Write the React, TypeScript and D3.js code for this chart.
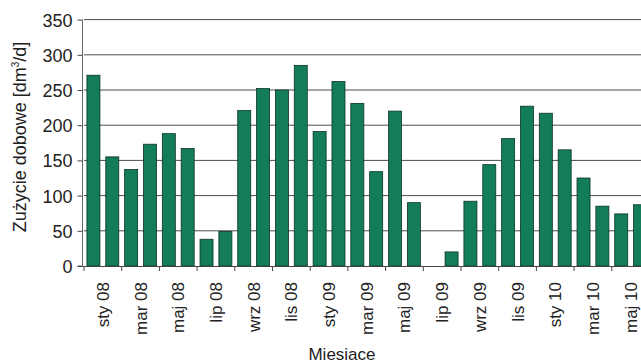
import { useEffect, useRef } from 'react'
import * as d3 from 'd3'

// monthly values, Jan 2008 - Jun 2010
const months = [
  'sty 08', 'lut 08', 'mar 08', 'kwi 08', 'maj 08', 'cze 08', 'lip 08', 'sie 08', 'wrz 08', 'paź 08', 'lis 08', 'gru 08',
  'sty 09', 'lut 09', 'mar 09', 'kwi 09', 'maj 09', 'cze 09', 'lip 09', 'sie 09', 'wrz 09', 'paź 09', 'lis 09', 'gru 09',
  'sty 10', 'lut 10', 'mar 10', 'kwi 10', 'maj 10', 'cze 10',
]
const usage = [
  271, 155, 137, 173, 188, 167, 38, 49, 221, 252, 250, 285,
  191, 262, 231, 134, 220, 90, 0, 20, 92, 144, 181, 227,
  217, 165, 125, 85, 74, 87,
]
const xTickLabels = [
  'sty 08', 'mar 08', 'maj 08', 'lip 08', 'wrz 08', 'lis 08', 'sty 09', 'mar 09',
  'maj 09', 'lip 09', 'wrz 09', 'lis 09', 'sty 10', 'mar 10', 'maj 10',
]
const yTicks = [0, 50, 100, 150, 200, 250, 300, 350]

const W = 641
const H = 363
const FONT = "'Liberation Sans Narrow', 'Arial Narrow', 'Liberation Sans', sans-serif"

export default function App() {
  const ref = useRef<SVGSVGElement | null>(null)

  useEffect(() => {
    const svg = d3.select(ref.current)
    svg.selectAll('*').remove()

    const left = 84
    const step = 18.85
    const right = left + step * months.length
    const bottom = 266
    const top = 19.6

    const x = d3.scaleBand<string>().domain(months).range([left, right]).paddingInner(0.31).paddingOuter(0.155)
    const xi = d3.scaleLinear().domain([0, months.length]).range([left, right])
    const y = d3.scaleLinear().domain([0, 350]).range([bottom, top])

    // gridlines
    svg.append('g')
      .selectAll('line')
      .data(yTicks.filter((d) => d > 0))
      .enter()
      .append('line')
      .attr('x1', left)
      .attr('x2', W)
      .attr('y1', (d) => y(d))
      .attr('y2', (d) => y(d))
      .attr('stroke', '#4d4d4d')
      .attr('stroke-width', 1)

    // bars
    svg.append('g')
      .selectAll('rect')
      .data(usage.map((v, i) => ({ m: months[i], v })).filter((d) => d.v > 0))
      .enter()
      .append('rect')
      .attr('x', (d) => x(d.m)!)
      .attr('y', (d) => y(d.v))
      .attr('width', x.bandwidth())
      .attr('height', (d) => bottom - y(d.v))
      .attr('fill', '#137d5a')
      .attr('stroke', '#0d3326')
      .attr('stroke-width', 0.8)

    // y axis
    const yAxis = svg.append('g')
      .attr('transform', `translate(${left - 1.5},0)`)
      .call(d3.axisLeft(y).tickValues(yTicks).tickSize(5).tickPadding(5))
    yAxis.select('.domain').attr('stroke', '#666').attr('d', `M-5,${bottom}H0V${top}`)
    yAxis.selectAll('.tick line').attr('stroke', '#444')
    yAxis.selectAll('.tick text')
      .attr('font-family', FONT)
      .attr('font-size', 18)
      .attr('fill', '#222')
      .attr('dy', '0.36em')

    // x axis line + tick marks every 2 months
    svg.append('line')
      .attr('x1', left - 1.5)
      .attr('x2', W)
      .attr('y1', bottom + 0.5)
      .attr('y2', bottom + 0.5)
      .attr('stroke', '#444')
    svg.append('g')
      .selectAll('line')
      .data(d3.range(0, months.length + 1, 2))
      .enter()
      .append('line')
      .attr('x1', (d) => xi(d))
      .attr('x2', (d) => xi(d))
      .attr('y1', bottom)
      .attr('y2', bottom + 5)
      .attr('stroke', '#444')

    // x labels, centred on each pair of months
    svg.append('g')
      .selectAll('text')
      .data(xTickLabels)
      .enter()
      .append('text')
      .attr('transform', (d, i) => `translate(${xi(2 * i + 1) + 6},282) rotate(-90)`)
      .attr('text-anchor', 'end')
      .attr('font-family', FONT)
      .attr('font-size', 17)
      .attr('fill', '#222')
      .text((d) => d)

    // axis titles
    svg.append('text')
      .attr('transform', `translate(26,137) rotate(-90)`)
      .attr('text-anchor', 'middle')
      .attr('font-family', FONT)
      .attr('font-size', 18)
      .attr('fill', '#222')
      .call((t) => {
        t.append('tspan').text('Zużycie dobowe [dm')
        t.append('tspan').attr('font-size', 10).attr('dy', -7).text('3')
        t.append('tspan').attr('dy', 7).text('/d]')
      })

    svg.append('text')
      .attr('x', 342)
      .attr('y', 360)
      .attr('text-anchor', 'middle')
      .attr('font-family', FONT)
      .attr('font-size', 17)
      .attr('fill', '#222')
      .text('Miesiace')
  }, [])

  return (
    <svg
      ref={ref}
      width={W}
      height={H}
      style={{ position: 'absolute', left: 0, top: 0, background: '#fff' }}
    />
  )
}
